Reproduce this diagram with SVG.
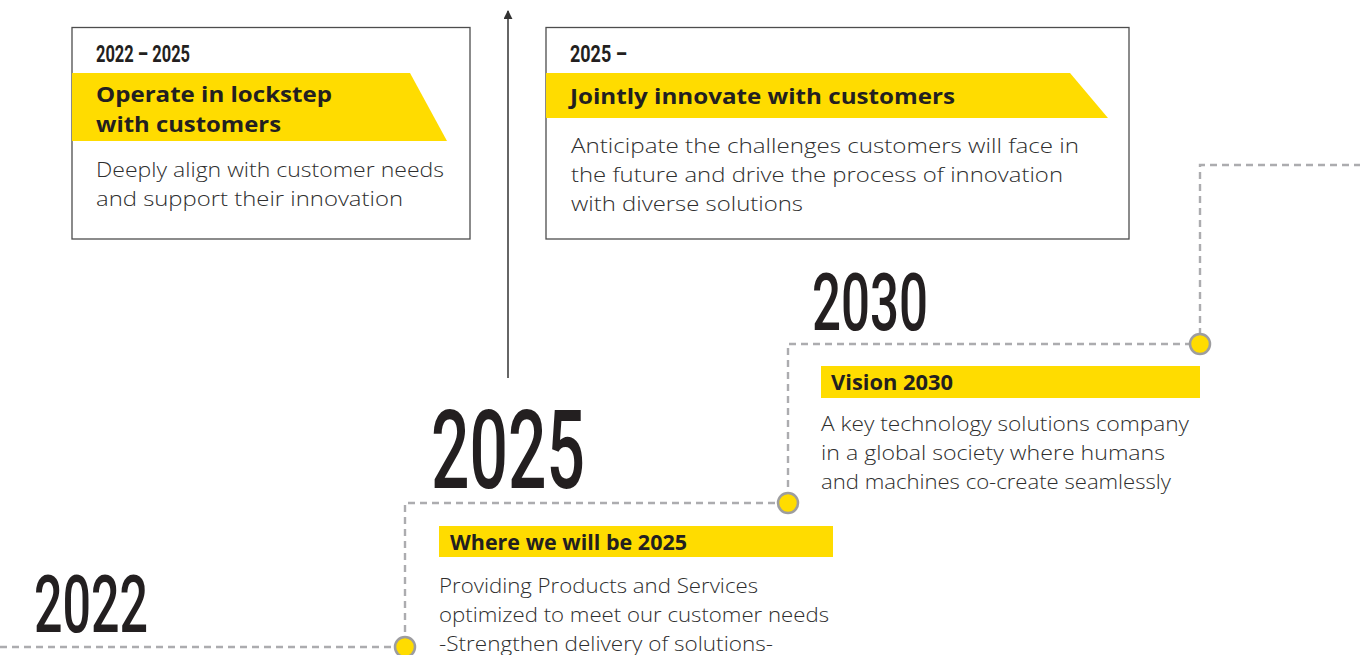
<svg xmlns="http://www.w3.org/2000/svg" width="1360" height="655" viewBox="0 0 1360 655">
<defs>
<style>
.box{fill:#fff;stroke:#4d4d4d;stroke-width:1.3}
.band{fill:#FFDC00}
.yr{font-family:Roboto,"Liberation Sans",sans-serif;font-weight:500;fill:#231f20}
.sy{font-family:Roboto,"Liberation Sans",sans-serif;font-weight:700;fill:#231f20}
.hd{font-family:"Open Sans","Liberation Sans",sans-serif;font-weight:700;font-size:22px;fill:#231f20}
.bd{font-family:"Open Sans","Liberation Sans",sans-serif;font-weight:300;font-size:20px;fill:#2e2e2e}
.dash{fill:none;stroke:#acacaf;stroke-width:2.4;stroke-dasharray:7 5}
.dot{fill:#FFDC00;stroke:#9d9d9f;stroke-width:2.5}
</style>
<marker id="ah" viewBox="0 0 10 10" refX="9" refY="5" markerWidth="9" markerHeight="9" orient="auto" markerUnits="userSpaceOnUse">
<path d="M0,0 L10,5 L0,10 Z" fill="#333"/>
</marker>
</defs>
<rect width="1360" height="655" fill="#fff"/>

<g id="connectors">
<line x1="508" y1="378" x2="508" y2="11" stroke="#333" stroke-width="1.5" marker-end="url(#ah)"/>
<path class="dash" d="M0,647 H405 V503 H788 V344 H1200 V165 H1360"/>
</g>

<g id="box-2022-2025">
<rect class="box" x="72" y="27.5" width="398" height="211.5"/>
<text class="sy" x="96" y="62" font-size="24" textLength="94" lengthAdjust="spacingAndGlyphs">2022 – 2025</text>
<polygon class="band" points="72,73 410,73 447,141 72,141"/>
<text class="hd" x="96" y="102" textLength="236" lengthAdjust="spacingAndGlyphs">Operate in lockstep</text>
<text class="hd" x="96" y="132" textLength="185" lengthAdjust="spacingAndGlyphs">with customers</text>
<text class="bd" x="96" y="177" textLength="348" lengthAdjust="spacingAndGlyphs">Deeply align with customer needs</text>
<text class="bd" x="96" y="206" textLength="307" lengthAdjust="spacingAndGlyphs">and support their innovation</text>
</g>

<g id="box-2025-on">
<rect class="box" x="546" y="27.5" width="583" height="211.5"/>
<text class="sy" x="570" y="62" font-size="24" textLength="57" lengthAdjust="spacingAndGlyphs">2025 –</text>
<polygon class="band" points="546,73 1070,73 1108,118 546,118"/>
<text class="hd" x="570" y="104" textLength="385" lengthAdjust="spacingAndGlyphs">Jointly innovate with customers</text>
<text class="bd" x="571" y="153" textLength="508" lengthAdjust="spacingAndGlyphs">Anticipate the challenges customers will face in</text>
<text class="bd" x="571" y="182" textLength="492" lengthAdjust="spacingAndGlyphs">the future and drive the process of innovation</text>
<text class="bd" x="571" y="211" textLength="232" lengthAdjust="spacingAndGlyphs">with diverse solutions</text>
</g>

<g id="node-2030">
<text class="yr" x="812" y="330" font-size="80" textLength="116" lengthAdjust="spacingAndGlyphs">2030</text>
<circle class="dot" cx="1200" cy="344" r="10"/>
<rect class="band" x="821" y="366" width="379" height="32"/>
<text class="hd" x="831" y="390" font-size="20" textLength="122" lengthAdjust="spacingAndGlyphs">Vision 2030</text>
<text class="bd" x="821" y="431" textLength="368" lengthAdjust="spacingAndGlyphs">A key technology solutions company</text>
<text class="bd" x="821" y="460" textLength="344" lengthAdjust="spacingAndGlyphs">in a global society where humans</text>
<text class="bd" x="821" y="489" textLength="350" lengthAdjust="spacingAndGlyphs">and machines co-create seamlessly</text>
</g>

<g id="node-2025">
<text class="yr" x="431" y="488" font-size="109" textLength="154" lengthAdjust="spacingAndGlyphs">2025</text>
<circle class="dot" cx="788" cy="503" r="10"/>
<rect class="band" x="439" y="526" width="394" height="31"/>
<text class="hd" x="450" y="550" font-size="20" textLength="237" lengthAdjust="spacingAndGlyphs">Where we will be 2025</text>
<text class="bd" x="439" y="593" textLength="319" lengthAdjust="spacingAndGlyphs">Providing Products and Services</text>
<text class="bd" x="439" y="622" textLength="390" lengthAdjust="spacingAndGlyphs">optimized to meet our customer needs</text>
<text class="bd" x="439" y="651" textLength="334" lengthAdjust="spacingAndGlyphs">-Strengthen delivery of solutions-</text>
</g>

<g id="node-2022">
<text class="yr" x="34" y="632" font-size="80" textLength="114" lengthAdjust="spacingAndGlyphs">2022</text>
<circle class="dot" cx="405" cy="647" r="10"/>
</g>
</svg>
